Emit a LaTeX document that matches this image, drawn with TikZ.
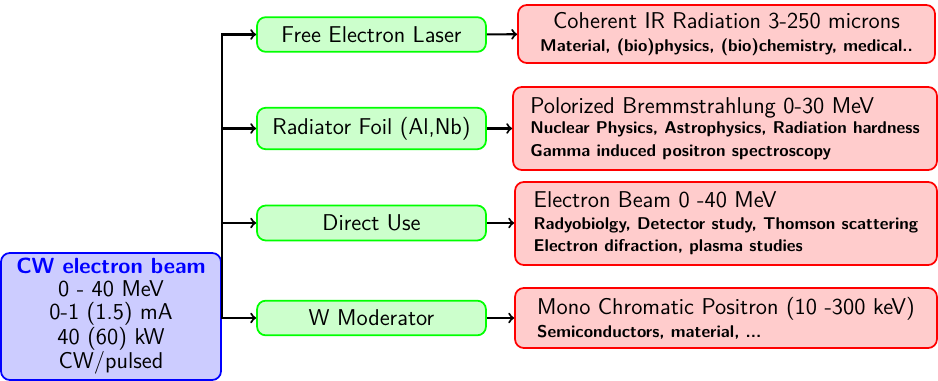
\documentclass[tikz,border=0pt]{standalone}
\usepackage{fontspec}
\newcommand\subtxt[1]{{\fontsize{9.7}{12}\selectfont\bfseries #1}}
\begin{document}
\begin{tikzpicture}[x=0.02cm,y=-0.02cm,
  font=\sffamily\fontsize{13}{13}\selectfont,
  srcbox/.style={draw=blue, fill=blue!20, line width=1pt, rounded corners=5pt,
    minimum width=4.4cm, minimum height=2.54cm, align=center, inner sep=0pt},
  midbox/.style={draw=green, fill=green!20, line width=1pt, rounded corners=5pt,
    minimum width=4.58cm, inner xsep=4pt, inner ysep=5.3pt},
  outbox/.style={draw=red, fill=red!20, line width=1pt, rounded corners=5pt,
    inner sep=0pt},
  conn/.style={->, line width=1.2pt}]
\useasboundingbox (0,0) rectangle (938,381);
\node[srcbox] (src) at (111,316.5) {{\fontsize{12.5}{13}\selectfont\bfseries\color{blue}CW electron beam}\\0 - 40 MeV\\0-1 (1.5) mA\\40 (60) kW\\CW/pulsed};
\node[midbox] (fel) at (371.5,34.5) {Free Electron Laser};
\node[midbox] (rad) at (371.5,128.5) {Radiator Foil (Al,Nb)};
\node[midbox] (dir) at (371.5,223) {Direct Use};
\node[midbox] (wm)  at (371.5,318) {W Moderator};
\node[outbox, minimum width=8.34cm, minimum height=1.16cm, align=center] (o1) at (726.5,34)
  {Coherent IR Radiation 3-250 microns\\[0pt]\subtxt{Material, (bio)physics, (bio)chemistry, medical..}};
\node[outbox, minimum width=8.48cm, minimum height=1.66cm, align=left] (o2) at (725,128.5)
  {Polorized Bremmstrahlung 0-30 MeV\\[-1.5pt]\subtxt{Nuclear Physics, Astrophysics, Radiation hardness}\\[0pt]\subtxt{Gamma induced positron spectroscopy}};
\node[outbox, minimum width=8.44cm, minimum height=1.66cm, align=left] (o3) at (726,223.5)
  {Electron Beam 0 -40 MeV\\[-0.5pt]\subtxt{Radyobiolgy, Detector study, Thomson scattering}\\[-0.5pt]\subtxt{Electron difraction, plasma studies}};
\node[outbox, minimum width=8.44cm, minimum height=1.2cm, align=left] (o4) at (726,318)
  {Mono Chromatic Positron (10 -300 keV)\\[0pt]\subtxt{Semiconductors, material, ...}};
\draw[conn] (src.east) |- (fel.west);
\draw[conn] (src.east) |- (rad.west);
\draw[conn] (src.east) |- (dir.west);
\draw[conn] (src.east) |- (wm.west);
\draw[conn] (fel) -- (o1);
\draw[conn] (rad.east) -- (rad.east -| o2.west);
\draw[conn] (dir.east) -- (dir.east -| o3.west);
\draw[conn] (wm.east) -- (wm.east -| o4.west);
\end{tikzpicture}
\end{document}
